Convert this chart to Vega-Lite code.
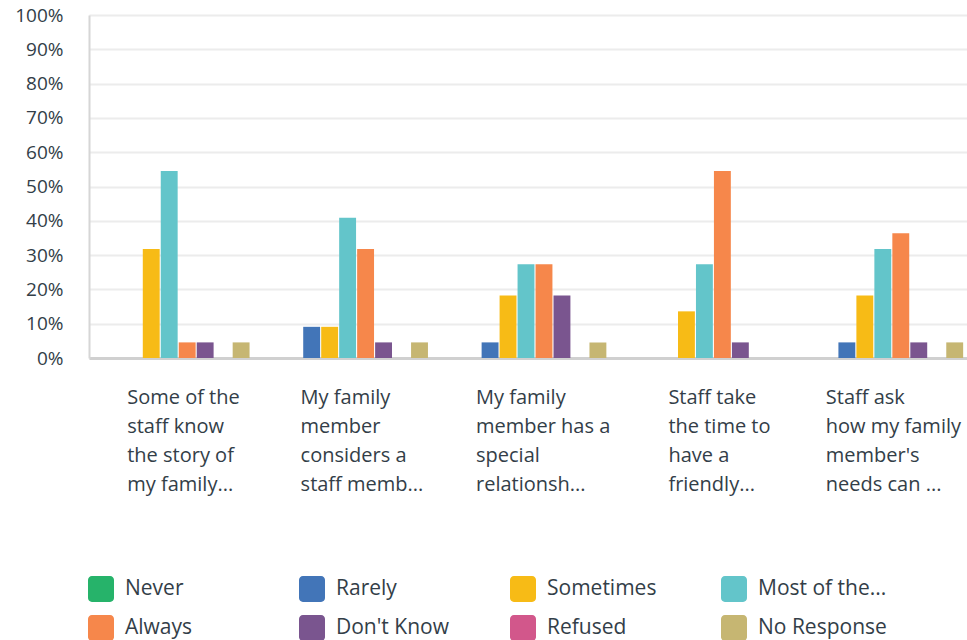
{
  "$schema": "https://vega.github.io/schema/vega-lite/v6.json",
  "autosize": "none",
  "width": 878,
  "height": 343,
  "padding": {"left": 89, "top": 15, "right": 0, "bottom": 282},
  "background": "white",
  "config": {
    "view": {"stroke": null},
    "font": "Open Sans"
  },
  "data": {
    "values": [
      {"q": "Some of the|staff know|the story of|my family...", "r": "Never", "v": 0},
      {"q": "Some of the|staff know|the story of|my family...", "r": "Rarely", "v": 0},
      {"q": "Some of the|staff know|the story of|my family...", "r": "Sometimes", "v": 0.318},
      {"q": "Some of the|staff know|the story of|my family...", "r": "Most of the...", "v": 0.545},
      {"q": "Some of the|staff know|the story of|my family...", "r": "Always", "v": 0.0455},
      {"q": "Some of the|staff know|the story of|my family...", "r": "Don't Know", "v": 0.0455},
      {"q": "Some of the|staff know|the story of|my family...", "r": "Refused", "v": 0},
      {"q": "Some of the|staff know|the story of|my family...", "r": "No Response", "v": 0.0455},
      {"q": "My family|member|considers a|staff memb...", "r": "Never", "v": 0},
      {"q": "My family|member|considers a|staff memb...", "r": "Rarely", "v": 0.0909},
      {"q": "My family|member|considers a|staff memb...", "r": "Sometimes", "v": 0.0909},
      {"q": "My family|member|considers a|staff memb...", "r": "Most of the...", "v": 0.409},
      {"q": "My family|member|considers a|staff memb...", "r": "Always", "v": 0.318},
      {"q": "My family|member|considers a|staff memb...", "r": "Don't Know", "v": 0.0455},
      {"q": "My family|member|considers a|staff memb...", "r": "Refused", "v": 0},
      {"q": "My family|member|considers a|staff memb...", "r": "No Response", "v": 0.0455},
      {"q": "My family|member has a|special|relationsh...", "r": "Never", "v": 0},
      {"q": "My family|member has a|special|relationsh...", "r": "Rarely", "v": 0.0455},
      {"q": "My family|member has a|special|relationsh...", "r": "Sometimes", "v": 0.182},
      {"q": "My family|member has a|special|relationsh...", "r": "Most of the...", "v": 0.273},
      {"q": "My family|member has a|special|relationsh...", "r": "Always", "v": 0.273},
      {"q": "My family|member has a|special|relationsh...", "r": "Don't Know", "v": 0.182},
      {"q": "My family|member has a|special|relationsh...", "r": "Refused", "v": 0},
      {"q": "My family|member has a|special|relationsh...", "r": "No Response", "v": 0.0455},
      {"q": "Staff take|the time to|have a|friendly...", "r": "Never", "v": 0},
      {"q": "Staff take|the time to|have a|friendly...", "r": "Rarely", "v": 0},
      {"q": "Staff take|the time to|have a|friendly...", "r": "Sometimes", "v": 0.136},
      {"q": "Staff take|the time to|have a|friendly...", "r": "Most of the...", "v": 0.273},
      {"q": "Staff take|the time to|have a|friendly...", "r": "Always", "v": 0.545},
      {"q": "Staff take|the time to|have a|friendly...", "r": "Don't Know", "v": 0.0455},
      {"q": "Staff take|the time to|have a|friendly...", "r": "Refused", "v": 0},
      {"q": "Staff take|the time to|have a|friendly...", "r": "No Response", "v": 0},
      {"q": "Staff ask|how my family|member's|needs can ...", "r": "Never", "v": 0},
      {"q": "Staff ask|how my family|member's|needs can ...", "r": "Rarely", "v": 0.0455},
      {"q": "Staff ask|how my family|member's|needs can ...", "r": "Sometimes", "v": 0.182},
      {"q": "Staff ask|how my family|member's|needs can ...", "r": "Most of the...", "v": 0.318},
      {"q": "Staff ask|how my family|member's|needs can ...", "r": "Always", "v": 0.364},
      {"q": "Staff ask|how my family|member's|needs can ...", "r": "Don't Know", "v": 0.0455},
      {"q": "Staff ask|how my family|member's|needs can ...", "r": "Refused", "v": 0},
      {"q": "Staff ask|how my family|member's|needs can ...", "r": "No Response", "v": 0.0455}
    ]
  },
  "mark": {"type": "bar"},
  "encoding": {
    "x": {
      "field": "q",
      "type": "nominal",
      "sort": null,
      "scale": {"range": [0, 892], "paddingInner": 0.2, "paddingOuter": 0.1},
      "axis": {
        "title": null,
        "labelExpr": "split(datum.label, '|')",
        "labelAngle": 0,
        "labelAlign": "left",
        "labelBaseline": "top",
        "labelLineHeight": 29,
        "labelFontSize": 20,
        "labelColor": "#333e48",
        "labelPadding": 29,
        "labelLimit": 300,
        "labelOffset": {"expr": "indexof(datum.value, 'Some') == 0 ? -51 : indexof(datum.value, 'considers') >= 0 ? -56 : indexof(datum.value, 'special') >= 0 ? -59 : indexof(datum.value, 'take') >= 0 ? -45 : -66"},
        "ticks": false,
        "domainColor": "#d0d0d0",
        "domainWidth": 3,
        "grid": false
      }
    },
    "xOffset": {
      "field": "r",
      "type": "nominal",
      "sort": ["Never", "Rarely", "Sometimes", "Most of the...", "Always", "Don't Know", "Refused", "No Response"],
      "scale": {"paddingInner": 0.06, "paddingOuter": 0}
    },
    "y": {
      "field": "v",
      "type": "quantitative",
      "scale": {"domain": [0, 1]},
      "axis": {
        "title": null,
        "values": [0, 0.1, 0.2, 0.3, 0.4, 0.5, 0.6, 0.7, 0.8, 0.9, 1],
        "format": ".0%",
        "ticks": false,
        "labelFontSize": 19,
        "labelColor": "#333e48",
        "labelPadding": 26,
        "domainColor": "#d6d6d6",
        "domainWidth": 2,
        "gridColor": "#ececec",
        "gridWidth": 2
      }
    },
    "color": {
      "field": "r",
      "type": "nominal",
      "scale": {
        "domain": ["Never", "Rarely", "Sometimes", "Most of the...", "Always", "Don't Know", "Refused", "No Response"],
        "range": ["#26b36a", "#4275b8", "#f7bb16", "#63c5ca", "#f6874b", "#7a558f", "#d2578b", "#c6b672"]
      },
      "legend": {
        "title": null,
        "orient": "none",
        "legendX": -1,
        "legendY": 561,
        "direction": "horizontal",
        "columns": 4,
        "gridAlign": "all",
        "symbolType": "M -0.7,-1 H 0.7 A 0.3 0.3 0 0 1 1 -0.7 V 0.7 A 0.3 0.3 0 0 1 0.7 1 H -0.7 A 0.3 0.3 0 0 1 -1 0.7 V -0.7 A 0.3 0.3 0 0 1 -0.7 -1 Z",
        "symbolSize": 676,
        "symbolStrokeWidth": 0,
        "symbolOpacity": 1,
        "labelFontSize": 21,
        "labelColor": "#333e48",
        "labelOffset": 11,
        "labelLimit": 300,
        "rowPadding": 12,
        "columnPadding": 44
      }
    }
  }
}
